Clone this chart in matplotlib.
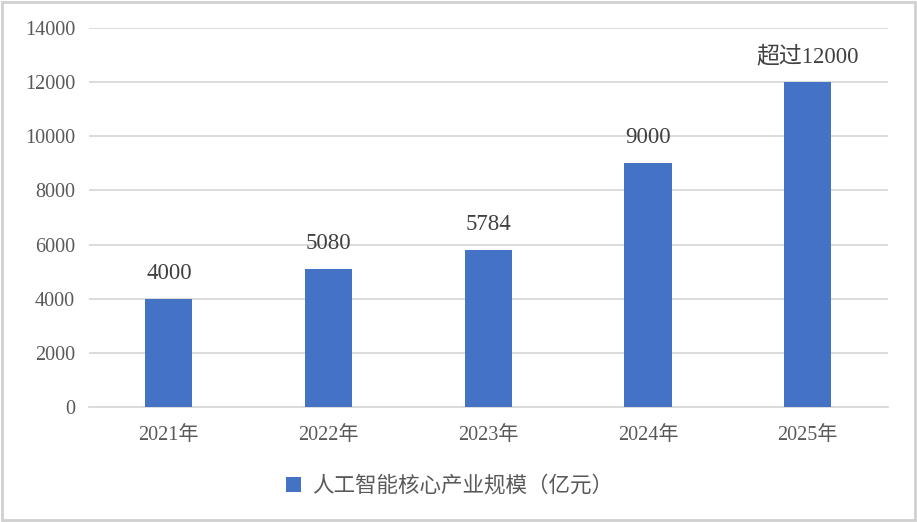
import matplotlib.pyplot as plt
from matplotlib.patches import Rectangle

years = ['2021年', '2022年', '2023年', '2024年', '2025年']
values = [4000, 5080, 5784, 9000, 12000]
labels = ['4000', '5080', '5784', '9000', '超过12000']
series_name = '人工智能核心产业规模（亿元）'
yticks = [0, 2000, 4000, 6000, 8000, 10000, 12000, 14000]

fam = ['Liberation Serif', 'Noto Sans CJK SC', 'DejaVu Sans']
plt.rcParams['font.family'] = fam
txt = '#595959'
grid = '#d9d9d9'
blue = '#4472C4'

fig = plt.figure(figsize=(9.17, 5.22), dpi=100)
ax = fig.add_axes([0.097, 0.2203, 0.871, 0.726])

x = range(len(years))
bars = ax.bar(x, values, width=0.295, color=blue, zorder=3, label=series_name)
for xi, v, lab in zip(x, values, labels):
    ax.text(xi, v + 560, lab, ha='center', va='bottom', fontsize=16.5, color='#404040')

ax.set_xlim(-0.5, len(years) - 0.5)
ax.set_ylim(0, 14000)
ax.set_yticks(yticks)
ax.set_yticklabels([str(t) for t in yticks], fontsize=14.5, color=txt)
ax.set_xticks(list(x))
ax.set_xticklabels(years, fontsize=14.5, color=txt)
ax.tick_params(length=0, pad=14)
ax.tick_params(axis='y', pad=10)
ax.yaxis.grid(True, color=grid, linewidth=1.3, zorder=0)
for s in ['top', 'right', 'left']:
    ax.spines[s].set_visible(False)
ax.spines['bottom'].set_color(grid)
ax.spines['bottom'].set_linewidth(1.3)

fig.legend(handles=[bars], labels=[series_name], loc='center', bbox_to_anchor=(0.49, 0.068),
           frameon=False, fontsize=15.5, handlelength=0.7, handleheight=0.7,
           handletextpad=0.5, labelcolor=txt)

fig.patches.append(Rectangle((0.002, 0.004), 0.996, 0.992, transform=fig.transFigure,
                             fill=False, edgecolor='#d0d0d0', linewidth=2))

fig.savefig('out.png', dpi=100)
